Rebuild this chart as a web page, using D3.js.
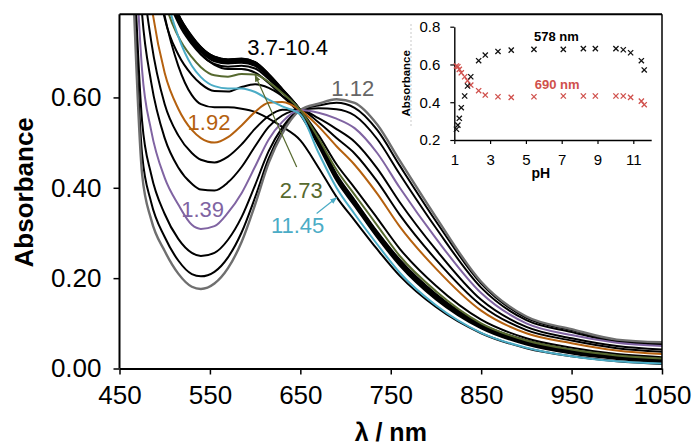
<!DOCTYPE html>
<html>
<head>
<meta charset="utf-8">
<title>Absorbance vs wavelength, pH titration</title>
<style>
  body { margin: 0; background: #fff; }
  svg { display: block; font-family: "Liberation Sans", Arial, sans-serif; }
</style>
</head>
<body>
<script src="https://cdn.jsdelivr.net/npm/d3@7"></script>
<script>
// wavelength grid (nm) shared by every spectrum
var wavelengths = [450, 465, 475, 485, 500, 515, 530, 540, 555, 570, 585, 600, 615, 630, 650, 670, 690, 710, 735, 760, 800, 850, 900, 950, 1000, 1050];

// absorbance, one array per pH
var abs_pH1_12 = [1.8, 0.85, 0.43, 0.33, 0.26, 0.21, 0.181, 0.176, 0.188, 0.222, 0.28, 0.363, 0.455, 0.52, 0.572, 0.586, 0.596, 0.588, 0.54, 0.46, 0.335, 0.192, 0.115, 0.087, 0.064, 0.058];
var abs_pH1_20 = [1.81, 0.886, 0.474, 0.368, 0.291, 0.239, 0.209, 0.204, 0.214, 0.246, 0.301, 0.379, 0.465, 0.525, 0.572, 0.582, 0.588, 0.577, 0.528, 0.449, 0.326, 0.188, 0.112, 0.085, 0.062, 0.056];
var abs_pH1_28 = [1.83, 0.946, 0.547, 0.43, 0.342, 0.287, 0.256, 0.249, 0.256, 0.285, 0.335, 0.406, 0.481, 0.533, 0.572, 0.576, 0.574, 0.56, 0.508, 0.43, 0.311, 0.179, 0.107, 0.081, 0.059, 0.053];
var abs_pH1_39 = [1.854, 1.039, 0.66, 0.527, 0.422, 0.363, 0.318, 0.309, 0.315, 0.345, 0.388, 0.447, 0.507, 0.546, 0.572, 0.566, 0.553, 0.532, 0.477, 0.4, 0.288, 0.167, 0.1, 0.074, 0.057, 0.05];
var abs_pH1_58 = [1.883, 1.141, 0.784, 0.634, 0.51, 0.445, 0.409, 0.396, 0.394, 0.412, 0.446, 0.492, 0.535, 0.56, 0.572, 0.554, 0.53, 0.502, 0.443, 0.368, 0.263, 0.152, 0.092, 0.067, 0.05, 0.042];
var abs_pH1_74 = [1.908, 1.229, 0.89, 0.725, 0.585, 0.516, 0.477, 0.462, 0.456, 0.469, 0.496, 0.531, 0.559, 0.573, 0.572, 0.545, 0.51, 0.476, 0.414, 0.34, 0.241, 0.14, 0.085, 0.062, 0.045, 0.037];
var abs_pH1_92 = [1.931, 1.31, 0.988, 0.81, 0.654, 0.575, 0.528, 0.51, 0.5, 0.512, 0.538, 0.568, 0.588, 0.59, 0.572, 0.536, 0.492, 0.451, 0.387, 0.314, 0.221, 0.128, 0.078, 0.056, 0.04, 0.032];
var abs_pH2_36 = [1.97, 1.45, 1.159, 0.956, 0.775, 0.695, 0.65, 0.63, 0.614, 0.613, 0.623, 0.629, 0.621, 0.603, 0.572, 0.517, 0.452, 0.4, 0.333, 0.265, 0.183, 0.108, 0.067, 0.046, 0.032, 0.025];
var abs_pH2_73 = [1.986, 1.5, 1.22, 1.008, 0.817, 0.735, 0.689, 0.667, 0.649, 0.646, 0.652, 0.651, 0.634, 0.61, 0.572, 0.51, 0.44, 0.385, 0.317, 0.249, 0.171, 0.1, 0.062, 0.042, 0.029, 0.022];
var abs_pH3_44 = [2.0, 1.54, 1.27, 1.05, 0.85, 0.765, 0.718, 0.695, 0.674, 0.668, 0.67, 0.664, 0.641, 0.612, 0.572, 0.507, 0.43, 0.373, 0.303, 0.241, 0.165, 0.098, 0.062, 0.041, 0.028, 0.02];
var abs_pH4_18 = [2.0, 1.55, 1.28, 1.055, 0.856, 0.771, 0.724, 0.701, 0.68, 0.675, 0.677, 0.67, 0.646, 0.615, 0.572, 0.506, 0.428, 0.371, 0.301, 0.239, 0.163, 0.097, 0.061, 0.04, 0.027, 0.019];
var abs_pH5_45 = [2.0, 1.55, 1.28, 1.06, 0.86, 0.775, 0.728, 0.705, 0.684, 0.678, 0.68, 0.673, 0.648, 0.617, 0.572, 0.505, 0.427, 0.37, 0.3, 0.238, 0.162, 0.096, 0.06, 0.04, 0.027, 0.019];
var abs_pH7_09 = [2.0, 1.56, 1.285, 1.065, 0.864, 0.778, 0.73, 0.707, 0.686, 0.68, 0.682, 0.675, 0.649, 0.617, 0.571, 0.503, 0.425, 0.368, 0.298, 0.236, 0.16, 0.094, 0.058, 0.038, 0.026, 0.018];
var abs_pH8_21 = [2.0, 1.56, 1.29, 1.07, 0.868, 0.782, 0.733, 0.71, 0.689, 0.683, 0.685, 0.678, 0.652, 0.619, 0.572, 0.504, 0.426, 0.369, 0.299, 0.237, 0.161, 0.095, 0.059, 0.039, 0.026, 0.018];
var abs_pH8_88 = [2.0, 1.57, 1.29, 1.07, 0.87, 0.784, 0.735, 0.711, 0.69, 0.684, 0.686, 0.678, 0.651, 0.618, 0.571, 0.502, 0.424, 0.367, 0.297, 0.235, 0.159, 0.093, 0.057, 0.037, 0.025, 0.017];
var abs_pH10_03 = [2.0, 1.57, 1.295, 1.075, 0.872, 0.785, 0.736, 0.712, 0.69, 0.684, 0.685, 0.677, 0.65, 0.617, 0.57, 0.501, 0.422, 0.365, 0.295, 0.233, 0.157, 0.092, 0.056, 0.036, 0.024, 0.016];
var abs_pH10_44 = [2.0, 1.57, 1.29, 1.07, 0.868, 0.78, 0.731, 0.706, 0.684, 0.678, 0.679, 0.671, 0.645, 0.613, 0.568, 0.499, 0.42, 0.363, 0.293, 0.231, 0.156, 0.091, 0.055, 0.035, 0.023, 0.015];
var abs_pH10_85 = [2.0, 1.57, 1.29, 1.07, 0.865, 0.774, 0.722, 0.696, 0.672, 0.663, 0.663, 0.655, 0.632, 0.603, 0.562, 0.493, 0.416, 0.36, 0.29, 0.228, 0.153, 0.089, 0.053, 0.033, 0.021, 0.014];
var abs_pH11_45 = [1.9, 1.5, 1.24, 1.03, 0.84, 0.735, 0.67, 0.645, 0.625, 0.62, 0.62, 0.612, 0.595, 0.58, 0.562, 0.478, 0.4, 0.342, 0.275, 0.212, 0.14, 0.079, 0.046, 0.027, 0.016, 0.011];
var abs_pH11_61 = [1.7, 1.35, 1.12, 0.95, 0.78, 0.67, 0.605, 0.585, 0.578, 0.578, 0.575, 0.568, 0.553, 0.535, 0.505, 0.445, 0.38, 0.328, 0.264, 0.205, 0.136, 0.078, 0.045, 0.027, 0.016, 0.01];

var spectra = [
  { pH: "1.12", values: abs_pH1_12 }, { pH: "1.20", values: abs_pH1_20 },
  { pH: "1.28", values: abs_pH1_28 }, { pH: "1.39", values: abs_pH1_39 },
  { pH: "1.58", values: abs_pH1_58 }, { pH: "1.74", values: abs_pH1_74 },
  { pH: "1.92", values: abs_pH1_92 }, { pH: "2.36", values: abs_pH2_36 },
  { pH: "2.73", values: abs_pH2_73 }, { pH: "3.44", values: abs_pH3_44 },
  { pH: "4.18", values: abs_pH4_18 }, { pH: "5.45", values: abs_pH5_45 },
  { pH: "7.09", values: abs_pH7_09 }, { pH: "8.21", values: abs_pH8_21 },
  { pH: "8.88", values: abs_pH8_88 }, { pH: "10.03", values: abs_pH10_03 },
  { pH: "10.44", values: abs_pH10_44 }, { pH: "10.85", values: abs_pH10_85 },
  { pH: "11.45", values: abs_pH11_45 }, { pH: "11.61", values: abs_pH11_61 }
];

// inset: absorbance at two wavelengths vs pH
var insetPH = [1.12, 1.2, 1.28, 1.39, 1.58, 1.74, 1.92, 2.36, 2.73, 3.44, 4.18, 5.45, 7.09, 8.21, 8.88, 10.03, 10.44, 10.85, 11.45, 11.61];
var abs578 = [0.257, 0.279, 0.315, 0.371, 0.433, 0.486, 0.535, 0.62, 0.65, 0.669, 0.676, 0.68, 0.68, 0.684, 0.684, 0.684, 0.678, 0.662, 0.62, 0.571];
var abs690 = [0.592, 0.588, 0.574, 0.556, 0.535, 0.514, 0.491, 0.461, 0.438, 0.429, 0.426, 0.429, 0.433, 0.433, 0.433, 0.433, 0.433, 0.426, 0.406, 0.387];

var xTicks = [450, 550, 650, 750, 850, 950, 1050];
var yTicks = [0, 0.2, 0.4, 0.6];
var insetXTicks = [1, 3, 5, 7, 9, 11];
var insetYTicks = [0.2, 0.4, 0.6, 0.8];

// curve labels, placed in data units [nm, absorbance]
var curveLabels = [
  { text: "3.7-10.4", at: [636, 0.712], color: "#000" },
  { text: "1.12", at: [708, 0.62], color: "#666" },
  { text: "1.92", at: [549, 0.545], color: "#b5610f" },
  { text: "1.39", at: [542, 0.353], color: "#8064a2" },
  { text: "2.73", at: [651, 0.395], color: "#56692f" },
  { text: "11.45", at: [647, 0.317], color: "#4bacc6" }
];
var arrows = [
  { from: [646, 0.446], to: [600, 0.649], color: "#56692f", id: "arrGreen" },
  { from: [668, 0.343], to: [690, 0.378], color: "#4bacc6", id: "arrCyan" }
];

var colorOf = { "1.12": "#6f6f6f", "1.39": "#8064a2", "1.92": "#b5610f", "2.73": "#56692f", "11.45": "#4bacc6" };

var W = 695, H = 447;
var svg = d3.select("body").append("svg").attr("width", W).attr("height", H);

var x = d3.scaleLinear().domain([450, 1050]).range([119.5, 662]);
var y = d3.scaleLinear().domain([0, 0.784]).range([368.5, 14.3]);

var defs = svg.append("defs");
defs.append("clipPath").attr("id", "plotClip")
  .append("rect").attr("x", x(450)).attr("y", y(0.784))
  .attr("width", x(1050) - x(450)).attr("height", y(0) - y(0.784));

arrows.forEach(function (a) {
  defs.append("marker").attr("id", a.id)
    .attr("viewBox", "0 0 10 10").attr("refX", 9).attr("refY", 5)
    .attr("markerWidth", 7).attr("markerHeight", 7)
    .attr("markerUnits", "userSpaceOnUse").attr("orient", "auto")
    .append("path").attr("d", "M0,1L10,5L0,9z").attr("fill", a.color);
});

var line = d3.line()
  .x(function (d) { return x(d[0]); })
  .y(function (d) { return y(d[1]); })
  .curve(d3.curveMonotoneX);

// black curves first, coloured ones on top
var ordered = spectra.filter(function (s) { return !colorOf[s.pH]; })
  .concat(spectra.filter(function (s) { return colorOf[s.pH]; }));

svg.append("g").attr("clip-path", "url(#plotClip)")
  .selectAll("path").data(ordered).enter().append("path")
  .attr("d", function (s) { return line(d3.zip(wavelengths, s.values)); })
  .attr("fill", "none")
  .attr("stroke", function (s) { return colorOf[s.pH] || "#000"; })
  .attr("stroke-width", function (s) { return s.pH === "1.12" ? 2.4 : 2; })
  .attr("stroke-linejoin", "round");

// plot frame (top and right)
svg.append("line").attr("x1", x(450)).attr("x2", x(1050)).attr("y1", y(0.784)).attr("y2", y(0.784))
  .attr("stroke", "#000").attr("stroke-width", 2);
svg.append("line").attr("x1", x(1050)).attr("x2", x(1050)).attr("y1", y(0.784)).attr("y2", y(0))
  .attr("stroke", "#000").attr("stroke-width", 1.5);

// axes
var gx = svg.append("g").attr("transform", "translate(0," + y(0) + ")")
  .call(d3.axisBottom(x).tickValues(xTicks).tickFormat(d3.format("d"))
    .tickSize(6).tickSizeOuter(0).tickPadding(11));
var gy = svg.append("g").attr("transform", "translate(" + x(450) + ",0)")
  .call(d3.axisLeft(y).tickValues(yTicks).tickFormat(d3.format(".2f"))
    .tickSize(6).tickSizeOuter(0).tickPadding(12));
[gx, gy].forEach(function (g) {
  g.select(".domain").attr("stroke", "#000").attr("stroke-width", 2);
  g.selectAll(".tick line").attr("stroke", "#000").attr("stroke-width", 1.5);
  g.selectAll(".tick text").attr("font-size", 26).attr("fill", "#000")
    .attr("font-family", "'Liberation Sans', Arial, sans-serif");
});
gy.select(".domain").attr("d", "M0," + y(0.784) + "V" + y(0));

svg.append("text").attr("x", (x(450) + x(1050)) / 2).attr("y", 441)
  .attr("text-anchor", "middle").attr("font-size", 25).attr("font-weight", "bold")
  .text("λ / nm");
svg.append("text").attr("transform", "translate(33," + y(0.39) + ") rotate(-90)")
  .attr("text-anchor", "middle").attr("font-size", 26).attr("font-weight", "bold")
  .text("Absorbance");

// curve labels and arrows
curveLabels.forEach(function (l) {
  svg.append("text").attr("x", x(l.at[0])).attr("y", y(l.at[1]))
    .attr("dy", "0.36em").attr("text-anchor", "middle")
    .attr("font-size", 22).attr("fill", l.color).text(l.text);
});
arrows.forEach(function (a) {
  svg.append("line")
    .attr("x1", x(a.from[0])).attr("y1", y(a.from[1]))
    .attr("x2", x(a.to[0])).attr("y2", y(a.to[1]))
    .attr("stroke", a.color).attr("stroke-width", 1.2)
    .attr("marker-end", "url(#" + a.id + ")");
});

// ---- inset ----
var xi = d3.scaleLinear().domain([1, 12]).range([454.3, 651.2]);
var yi = d3.scaleLinear().domain([0.2, 0.8]).range([140, 26.7]);
var inset = svg.append("g");

inset.append("line").attr("x1", 411).attr("x2", 411).attr("y1", 24).attr("y2", 126)
  .attr("stroke", "#bbb").attr("stroke-width", 0.8).attr("stroke-dasharray", "2,2");

var gxi = inset.append("g").attr("transform", "translate(0," + yi(0.2) + ")")
  .call(d3.axisBottom(xi).tickValues(insetXTicks).tickFormat(d3.format("d"))
    .tickSize(4).tickSizeOuter(0).tickPadding(10));
var gyi = inset.append("g").attr("transform", "translate(" + xi(1) + ",0)")
  .call(d3.axisLeft(yi).tickValues(insetYTicks).tickFormat(d3.format(".1f"))
    .tickSize(4).tickSizeOuter(0).tickPadding(10));
[gxi, gyi].forEach(function (g) {
  g.select(".domain").attr("stroke", "#000").attr("stroke-width", 1.4);
  g.selectAll(".tick line").attr("stroke", "#000").attr("stroke-width", 1.2);
  g.selectAll(".tick text").attr("font-size", 15).attr("fill", "#000")
    .attr("font-family", "'Liberation Sans', Arial, sans-serif");
});

var cross = "M-2.6,-2.6L2.6,2.6M-2.6,2.6L2.6,-2.6";
inset.append("g").selectAll("path").data(d3.zip(insetPH, abs690)).enter().append("path")
  .attr("transform", function (d) { return "translate(" + xi(d[0]) + "," + yi(d[1]) + ")"; })
  .attr("d", cross).attr("stroke", "#d0504c").attr("stroke-width", 1.3).attr("fill", "none");
inset.append("g").selectAll("path").data(d3.zip(insetPH, abs578)).enter().append("path")
  .attr("transform", function (d) { return "translate(" + xi(d[0]) + "," + yi(d[1]) + ")"; })
  .attr("d", cross).attr("stroke", "#111").attr("stroke-width", 1.3).attr("fill", "none");

inset.append("text").attr("x", xi(6.7)).attr("y", yi(0.747)).attr("dy", "0.36em")
  .attr("text-anchor", "middle").attr("font-size", 13).attr("font-weight", "bold")
  .attr("fill", "#000").text("578 nm");
inset.append("text").attr("x", xi(6.75)).attr("y", yi(0.497)).attr("dy", "0.36em")
  .attr("text-anchor", "middle").attr("font-size", 13).attr("font-weight", "bold")
  .attr("fill", "#d0504c").text("690 nm");
inset.append("text").attr("x", (xi(1) + xi(12)) / 2 - 12).attr("y", 178)
  .attr("text-anchor", "middle").attr("font-size", 14).attr("font-weight", "bold")
  .text("pH");
inset.append("text").attr("transform", "translate(410," + yi(0.5) + ") rotate(-90)")
  .attr("text-anchor", "middle").attr("font-size", 11.5).attr("font-weight", "bold")
  .text("Absorbance");
</script>
</body>
</html>
